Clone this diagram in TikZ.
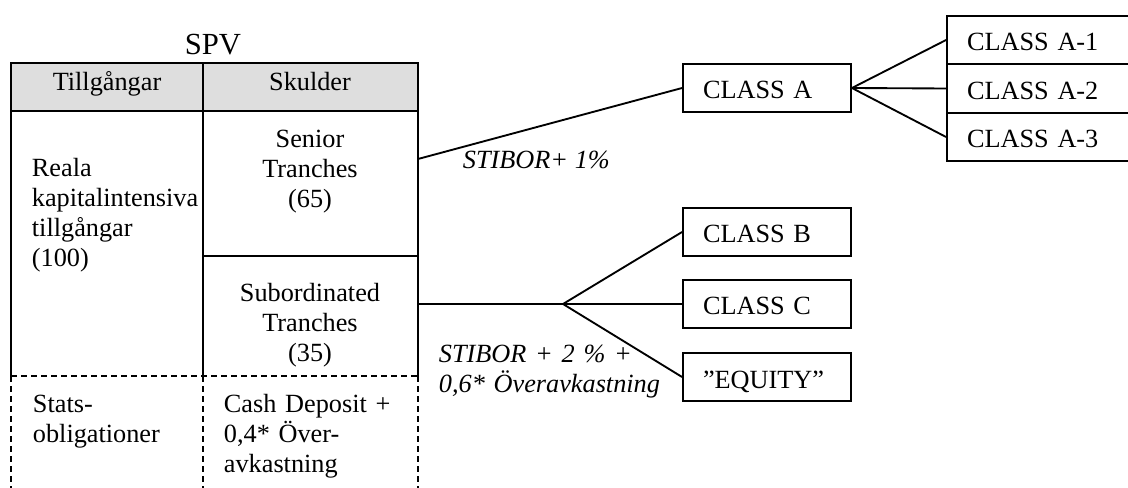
\documentclass[tikz,border=0pt]{standalone}
\usepackage{fontspec}
\setmainfont{Liberation Serif}
\definecolor{headgray}{RGB}{222,222,222}
\begin{document}
\begin{tikzpicture}[x=0.75pt,y=-0.75pt,line width=1.4pt,
  txt/.style={inner sep=0pt,font=\fontsize{19.7}{22.5}\selectfont},
  lbl/.style={inner sep=0pt,font=\fontsize{19.7}{22.5}\selectfont\itshape},
  classbox/.style={draw,minimum height=36pt,inner xsep=15pt,inner ysep=0pt,
    text width=96pt,align=left,text height=16.5pt,text depth=0pt,
    font=\fontsize{19.7}{22.5}\selectfont},
  subbox/.style={classbox,text width=114.75pt},
  dashedline/.style={dash pattern=on 4.5pt off 3pt}]
\useasboundingbox (0,0) rectangle (1128,488);
\clip (0,0) rectangle (1128,488);

% balance sheet of the SPV
\node[txt,anchor=base] (spv) at (213,55) {\fontsize{23}{26}\selectfont SPV};
\draw[fill=headgray] (11,63) rectangle (418,111);
\draw (11,111) -- (11,376);
\draw (418,111) -- (418,376);
\draw (203,63) -- (203,376);
\draw (203,256) -- (418,256);
\draw[dashedline] (11,376) -- (418,376);
\draw[dashedline] (11,376) -- (11,495);
\draw[dashedline] (203,376) -- (203,495);
\draw[dashedline] (418,376) -- (418,495);

\node[txt,anchor=base] (assets) at (107,91) {Tillgångar};
\node[txt,anchor=base] (debts) at (310,91) {Skulder};
\node[txt,anchor=base west,text width=130pt,align=left] (real) at (31,177)
  {Reala\\kapitalintensiva\\tillgångar\\(100)};
\node[txt,anchor=base,text width=150pt,align=center] (senior) at (310,148)
  {Senior\\Tranches\\(65)};
\node[txt,anchor=base,text width=150pt,align=center] (subord) at (310,301)
  {Subordinated\\Tranches\\(35)};
\node[txt,anchor=base west,text width=130pt,align=left] (bonds) at (32,412)
  {Stats-\\obligationer};
\node[txt,anchor=base west,text width=140pt,align=left] (cash) at (223,412)
  {Cash Deposit +\\0,4* Över-\\avkastning};

% tranche classes
\node[classbox] (classA) at (767,88) {CLASS A};
\node[subbox] (a1) at (1043.5,40) {CLASS A-1};
\node[subbox] (a2) at (1043.5,88.5) {CLASS A-2};
\node[subbox] (a3) at (1043.5,137) {CLASS A-3};
\node[classbox] (classB) at (767,232) {CLASS B};
\node[classbox] (classC) at (767,304) {CLASS C};
\node[classbox] (equity) at (767,377) {”EQUITY”};

% connectors
\coordinate (seniorOut) at (418,159);
\coordinate (subOut) at (418,304);
\coordinate (fork) at (563,304);
\draw (seniorOut) -- (classA.west);
\draw (classA.east) -- (a1.west);
\draw (classA.east) -- (a2.west);
\draw (classA.east) -- (a3.west);
\draw (subOut) -- (fork);
\draw (fork) -- (classB.west);
\draw (fork) -- (classC.west);
\draw (fork) -- (equity.west);

% coupon labels
\node[lbl,anchor=base west] (rateA) at (462,169) {STIBOR+ 1\%};
\node[lbl,anchor=base west,text width=170pt,align=left] (rateB) at (438,362)
  {STIBOR + 2 \% +\\0,6* Överavkastning};
\end{tikzpicture}
\end{document}
